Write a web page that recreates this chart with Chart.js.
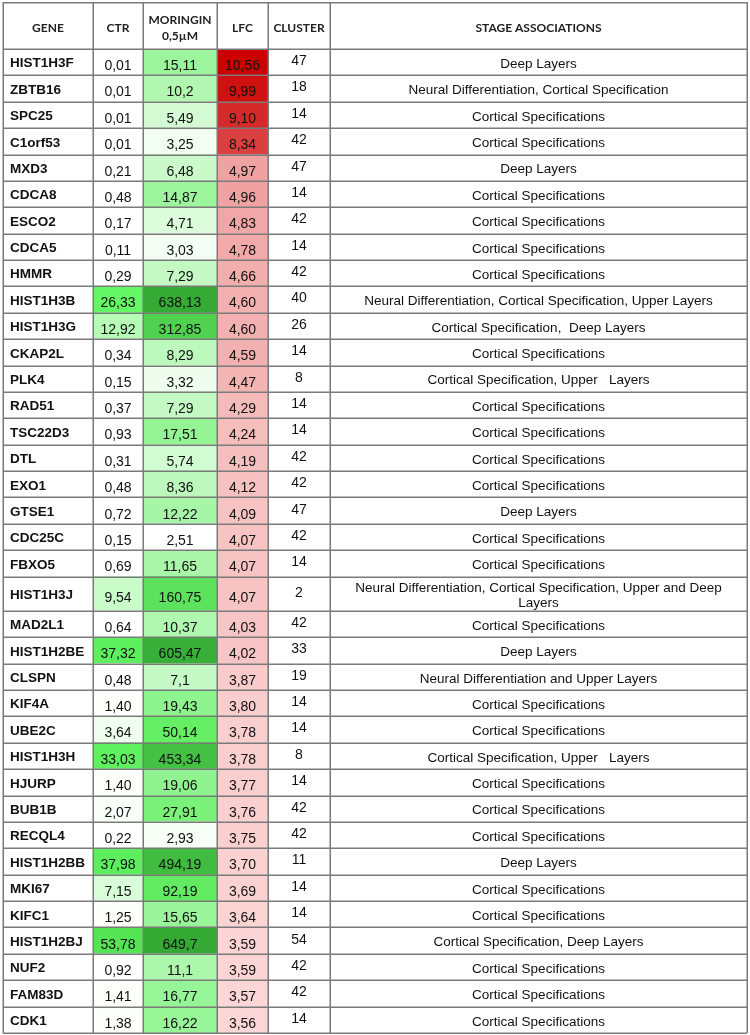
<!DOCTYPE html>
<html>
<head>
<meta charset="utf-8">
<script src="https://cdn.jsdelivr.net/npm/chart.js@4.4.1/dist/chart.umd.min.js"></script>
<style>
  html, body { margin: 0; padding: 0; background: #fff; }
</style>
</head>
<body>
<canvas id="chart" width="750" height="1035"></canvas>
<script>
// table data, top to bottom
const genes = ['HIST1H3F', 'ZBTB16', 'SPC25', 'C1orf53', 'MXD3', 'CDCA8', 'ESCO2', 'CDCA5', 'HMMR',
  'HIST1H3B', 'HIST1H3G', 'CKAP2L', 'PLK4', 'RAD51', 'TSC22D3', 'DTL', 'EXO1', 'GTSE1', 'CDC25C',
  'FBXO5', 'HIST1H3J', 'MAD2L1', 'HIST1H2BE', 'CLSPN', 'KIF4A', 'UBE2C', 'HIST1H3H', 'HJURP',
  'BUB1B', 'RECQL4', 'HIST1H2BB', 'MKI67', 'KIFC1', 'HIST1H2BJ', 'NUF2', 'FAM83D', 'CDK1']
const ctr = [0.01, 0.01, 0.01, 0.01, 0.21, 0.48, 0.17, 0.11, 0.29, 26.33, 12.92, 0.34, 0.15, 0.37,
  0.93, 0.31, 0.48, 0.72, 0.15, 0.69, 9.54, 0.64, 37.32, 0.48, 1.40, 3.64, 33.03, 1.40, 2.07, 0.22,
  37.98, 7.15, 1.25, 53.78, 0.92, 1.41, 1.38]
const moringin = [15.11, 10.2, 5.49, 3.25, 6.48, 14.87, 4.71, 3.03, 7.29, 638.13, 312.85, 8.29, 3.32,
  7.29, 17.51, 5.74, 8.36, 12.22, 2.51, 11.65, 160.75, 10.37, 605.47, 7.1, 19.43, 50.14, 453.34,
  19.06, 27.91, 2.93, 494.19, 92.19, 15.65, 649.7, 11.1, 16.77, 16.22]
const lfc = [10.56, 9.99, 9.10, 8.34, 4.97, 4.96, 4.83, 4.78, 4.66, 4.60, 4.60, 4.59, 4.47, 4.29,
  4.24, 4.19, 4.12, 4.09, 4.07, 4.07, 4.07, 4.03, 4.02, 3.87, 3.80, 3.78, 3.78, 3.77, 3.76, 3.75,
  3.70, 3.69, 3.64, 3.59, 3.59, 3.57, 3.56]
const cluster = [47, 18, 14, 42, 47, 14, 42, 14, 42, 40, 26, 14, 8, 14, 14, 42, 42, 47, 42, 14, 2,
  42, 33, 19, 14, 14, 8, 14, 42, 42, 11, 14, 14, 54, 42, 42, 14]
const stages = [
  'Deep Layers',
  'Neural Differentiation, Cortical Specification',
  'Cortical Specifications',
  'Cortical Specifications',
  'Deep Layers',
  'Cortical Specifications',
  'Cortical Specifications',
  'Cortical Specifications',
  'Cortical Specifications',
  'Neural Differentiation, Cortical Specification, Upper Layers',
  'Cortical Specification,  Deep Layers',
  'Cortical Specifications',
  'Cortical Specification, Upper   Layers',
  'Cortical Specifications',
  'Cortical Specifications',
  'Cortical Specifications',
  'Cortical Specifications',
  'Deep Layers',
  'Cortical Specifications',
  'Cortical Specifications',
  'Neural Differentiation, Cortical Specification, Upper and Deep Layers',
  'Cortical Specifications',
  'Deep Layers',
  'Neural Differentiation and Upper Layers',
  'Cortical Specifications',
  'Cortical Specifications',
  'Cortical Specification, Upper   Layers',
  'Cortical Specifications',
  'Cortical Specifications',
  'Cortical Specifications',
  'Deep Layers',
  'Cortical Specifications',
  'Cortical Specifications',
  'Cortical Specification, Deep Layers',
  'Cortical Specifications',
  'Cortical Specifications',
  'Cortical Specifications'
]
const headers = [['GENE'], ['CTR'], ['MORINGIN', '0,5\u00b5M'], ['LFC'], ['CLUSTER'], ['STAGE ASSOCIATIONS']]

// column layout (x scale units = px)
const edges = [0, 90, 140, 214, 265, 327, 744]
const centers = edges.slice(0, -1).map((e, i) => (e + edges[i + 1]) / 2)
const STAGE_FONT = '13.5px "Liberation Sans", Arial, sans-serif'

function wrap(ctx, text, maxW) {
  if (ctx.measureText(text).width <= maxW) return [text]
  const words = text.split(' ')
  const lines = []
  let cur = ''
  words.forEach(w => {
    const t = cur ? cur + ' ' + w : w
    if (ctx.measureText(t).width > maxW && cur) { lines.push(cur); cur = w } else cur = t
  })
  lines.push(cur)
  return lines
}

// rows with wrapped stage text get a taller row
const measureCtx = document.createElement('canvas').getContext('2d')
measureCtx.font = STAGE_FONT
const stageLines = stages.map(s => wrap(measureCtx, s, edges[6] - edges[5] - 8))
const rowSpan = stageLines.map(l => l.length > 1 ? 1.3 : 1)
const rowTop = []
rowSpan.reduce((acc, s, i) => { rowTop[i] = acc; return acc + s }, 0)
const totalRows = rowSpan.reduce((a, b) => a + b, 0)

// colour scales, like the spreadsheet conditional formatting
function mix(a, b, t) {
  t = Math.max(0, Math.min(1, t))
  return 'rgb(' + a.map((v, i) => Math.round(v + (b[i] - v) * t)).join(',') + ')'
}
const WHITE = [255, 255, 255]
function ctrColor(v) {
  if (v <= 26) return mix(WHITE, [100, 246, 100], (v - 1) / 25)
  return mix([100, 246, 100], [84, 228, 84], (v - 26) / 28)
}
function morColor(v) {
  if (v <= 40) return mix(WHITE, [102, 240, 102], (Math.log10(v) - Math.log10(2.5)) / (Math.log10(40) - Math.log10(2.5)))
  return mix([102, 240, 102], [52, 170, 52], (v - 40) / 610)
}
function lfcColor(v) {
  if (v <= 4.97) return mix([251, 214, 214], [240, 162, 162], (v - 3.56) / 1.41)
  return mix([240, 162, 162], [204, 0, 0], (v - 4.97) / 5.59)
}

const fmt2 = v => v.toFixed(2).replace('.', ',')
const fmtPlain = v => String(v).replace('.', ',')
const cellText = [genes, ctr.map(fmt2), moringin.map(fmtPlain), lfc.map(fmt2), cluster.map(String), stages]
const cellBg = [
  genes.map(() => '#fff'),
  ctr.map(ctrColor),
  moringin.map(morColor),
  lfc.map(lfcColor),
  genes.map(() => '#fff'),
  genes.map(() => '#fff')
]

// one floating bar per cell: x = column, y = row span
const datasets = headers.map((h, c) => ({
  label: h.join(' '),
  data: genes.map((g, i) => ({ x: centers[c], y: [rowTop[i], rowTop[i] + rowSpan[i]] })),
  backgroundColor: cellBg[c],
  borderWidth: 0,
  barThickness: edges[c + 1] - edges[c],
  stack: 'table'
}))

// grid lines and cell text
const tablePlugin = {
  id: 'table',
  afterDatasetsDraw(chart) {
    const { ctx, chartArea: a, scales: { x, y } } = chart
    ctx.save()
    ctx.fillStyle = '#111'
    ctx.textBaseline = 'middle'
    cellText.forEach((col, c) => {
      const meta = chart.getDatasetMeta(c)
      col.forEach((txt, i) => {
        const bar = meta.data[i]
        const left = bar.x - bar.width / 2
        const cy = (bar.y + bar.base) / 2
        if (c === 0) {
          ctx.font = 'bold 13.5px "Liberation Sans", Arial, sans-serif'
          ctx.textAlign = 'left'
          ctx.fillText(txt, left + 7, cy + 1.5)
        } else if (c === 5) {
          ctx.font = STAGE_FONT
          ctx.textAlign = 'center'
          const lines = stageLines[i]
          lines.forEach((l, k) => ctx.fillText(l, bar.x, cy + 2 + (k - (lines.length - 1) / 2) * 15))
        } else {
          ctx.font = '14px "Liberation Sans", Arial, sans-serif'
          ctx.textAlign = 'center'
          ctx.fillText(txt, bar.x, c === 4 ? cy - 1 : cy + 4)
        }
      })
    })
    ctx.strokeStyle = '#7a7a7a'
    ctx.lineWidth = 1.5
    ctx.beginPath()
    rowTop.concat([totalRows]).forEach(v => {
      const py = Math.round(y.getPixelForValue(v)) + 0.25
      ctx.moveTo(x.left, py)
      ctx.lineTo(x.right, py)
    })
    ctx.moveTo(x.left, x.top + 0.75)
    ctx.lineTo(x.right, x.top + 0.75)
    edges.forEach(e => {
      const px = Math.round(x.getPixelForValue(e)) + 0.25
      ctx.moveTo(px, x.top)
      ctx.lineTo(px, a.bottom)
    })
    ctx.stroke()
    ctx.restore()
  }
}

new Chart(document.getElementById('chart'), {
  type: 'bar',
  data: { datasets },
  options: {
    responsive: false,
    devicePixelRatio: 1,
    animation: false,
    layout: { padding: { top: 2, left: 3, right: 3, bottom: 2 } },
    plugins: { legend: { display: false }, tooltip: { enabled: false } },
    scales: {
      x: {
        type: 'linear',
        position: 'top',
        offset: false,
        min: 0,
        max: 744,
        grid: { display: false },
        border: { display: false },
        afterBuildTicks: s => { s.ticks = centers.map(v => ({ value: v })) },
        afterFit: s => { s.height = 47 },
        ticks: {
          autoSkip: false,
          maxRotation: 0,
          padding: 5,
          crossAlign: 'center',
          color: '#222',
          font: { family: 'Lato, "Open Sans", sans-serif', weight: 'bold', size: 12, lineHeight: 1.3 },
          callback: (v, i) => headers[i]
        }
      },
      y: { type: 'linear', display: false, reverse: true, min: 0, max: totalRows }
    }
  },
  plugins: [tablePlugin]
})
</script>
</body>
</html>
